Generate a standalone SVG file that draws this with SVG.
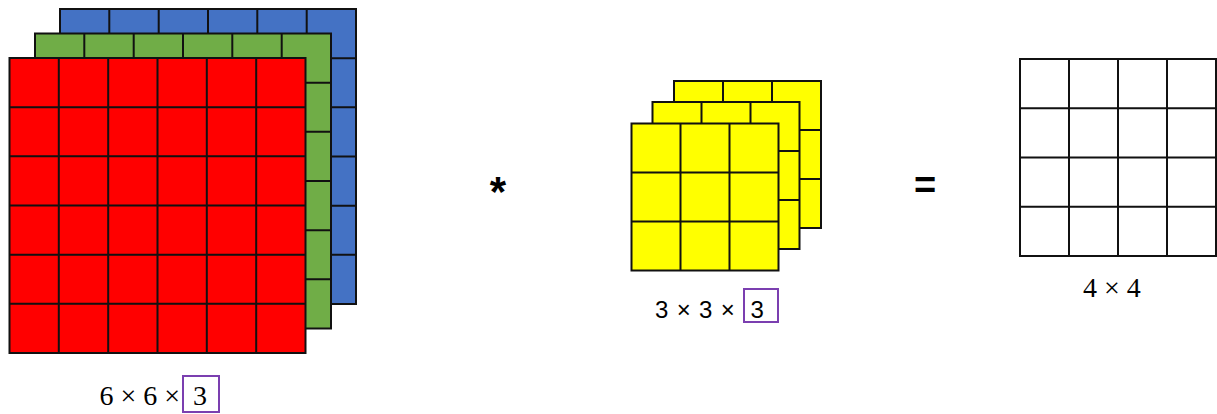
<svg xmlns="http://www.w3.org/2000/svg" xmlns:xlink="http://www.w3.org/1999/xlink" width="1217" height="414" viewBox="0 0 1217 414">
  <style>
    .grid { stroke: #111; stroke-width: 2; stroke-linejoin: miter; }
    .grid path { fill: none; }
    .lbl-serif { font-family: "Liberation Serif", "Times New Roman", serif; font-size: 28px; fill: #000; }
    .lbl-sans { font-family: "Liberation Sans", Arial, sans-serif; font-size: 24px; fill: #000; }
    .op { font-family: "Liberation Sans", Arial, sans-serif; font-weight: bold; fill: #000; text-anchor: middle; }
    .box { fill: none; stroke: #7B3FB0; stroke-width: 2; }
  </style>
  <defs>
    <g id="g6" class="grid">
      <rect x="0" y="0" width="296" height="295"/>
      <path d="M49.3 0V295M98.7 0V295M148 0V295M197.3 0V295M246.7 0V295M0 49.2H296M0 98.3H296M0 147.5H296M0 196.7H296M0 245.8H296"/>
    </g>
    <g id="g3" class="grid">
      <rect x="0" y="0" width="147" height="147"/>
      <path d="M49 0V147M98 0V147M0 49H147M0 98H147"/>
    </g>
    <g id="g4" class="grid">
      <rect x="0" y="0" width="196" height="197"/>
      <path d="M49 0V197M98 0V197M147 0V197M0 49.25H196M0 98.5H196M0 147.75H196"/>
    </g>
  </defs>

  <g id="input-volume">
    <use xlink:href="#g6" x="60" y="9" fill="#4472C4"/>
    <use xlink:href="#g6" x="35" y="33.5" fill="#70AD47"/>
    <use xlink:href="#g6" x="9.5" y="58" fill="#FF0000"/>
    <text class="lbl-serif" x="99.5" y="405">6 × 6 ×</text>
    <rect class="box" x="183" y="376" width="36" height="36"/>
    <text class="lbl-serif" x="193" y="405">3</text>
  </g>

  <g id="operator-conv">
    <text class="op" x="498" y="206" font-size="42">*</text>
  </g>

  <g id="filter-volume">
    <use xlink:href="#g3" x="674" y="81" fill="#FFFF00"/>
    <use xlink:href="#g3" x="652.5" y="102" fill="#FFFF00"/>
    <use xlink:href="#g3" x="631.5" y="123.5" fill="#FFFF00"/>
    <text class="lbl-sans" x="655" y="318" word-spacing="1.7">3 × 3 ×</text>
    <rect class="box" x="744" y="289" width="34" height="33"/>
    <text class="lbl-sans" x="750.5" y="318">3</text>
  </g>

  <g id="operator-eq">
    <text class="op" x="925" y="198" font-size="38">=</text>
  </g>

  <g id="output">
    <use xlink:href="#g4" x="1020" y="59" fill="#FFFFFF"/>
    <text class="lbl-serif" x="1083" y="297">4 × 4</text>
  </g>

  <g id="connectors"/>
</svg>
